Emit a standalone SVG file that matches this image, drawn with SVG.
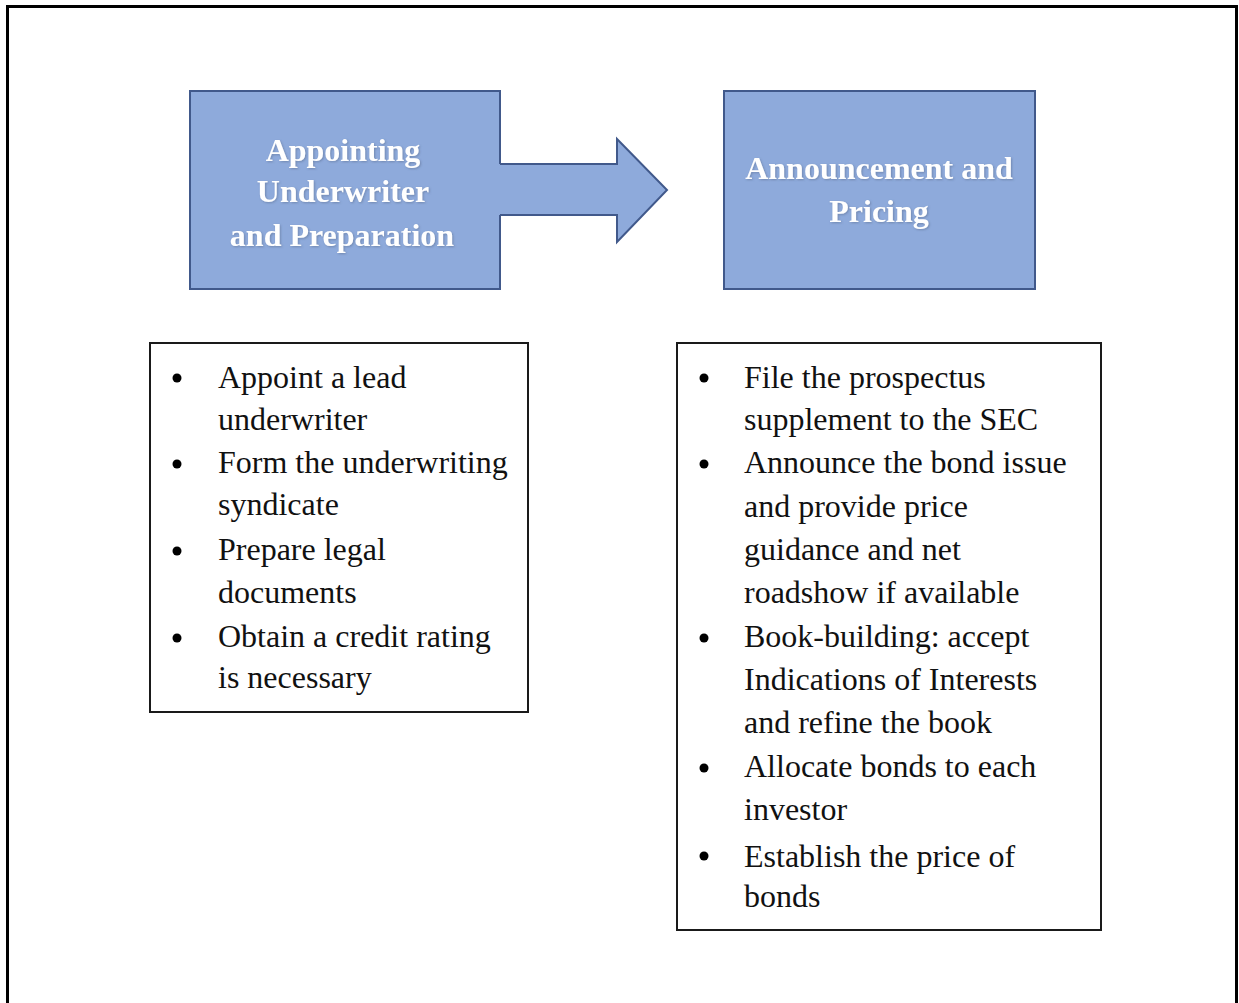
<svg xmlns="http://www.w3.org/2000/svg" width="1239" height="1003" viewBox="0 0 1239 1003">
<defs>
<filter id="shadow" x="-10%" y="-30%" width="120%" height="160%">
<feDropShadow dx="1" dy="1" stdDeviation="0.8" flood-color="#4a5a78" flood-opacity="0.45"/>
</filter>
</defs>
<style>
.shape{fill:#8eaadb;stroke:#41598b;stroke-width:2}
.title{font-family:"Liberation Serif","Times New Roman",serif;font-weight:bold;font-size:32px;fill:#ffffff;text-anchor:middle;filter:url(#shadow)}
.item{font-family:"Liberation Serif","Times New Roman",serif;font-size:32px;fill:#111111}
.box{fill:#ffffff;stroke:#1a1a1a;stroke-width:2}
.dot{fill:#000000}
</style>
<rect x="0" y="0" width="1239" height="1003" fill="#ffffff"/>
<rect x="7.5" y="6.5" width="1229" height="1010" fill="none" stroke="#000000" stroke-width="3"/>
<g id="connectors">
<path id="arrow" class="shape" d="M500,164 L617,164 L617,139 L667,190 L617,242 L617,215 L500,215"/>
</g>
<g id="node-appointing">
<rect x="190" y="91" width="310" height="198" fill="#8eaadb" stroke="none"/>
<path d="M500,164 L500,91 L190,91 L190,289 L500,289 L500,215" fill="none" stroke="#41598b" stroke-width="2"/>
<text class="title" x="343" y="161">Appointing</text>
<text class="title" x="343" y="202">Underwriter</text>
<text class="title" x="342" y="246">and Preparation</text>
</g>
<g id="node-announcement">
<rect class="shape" x="724" y="91" width="311" height="198"/>
<text class="title" x="879" y="179">Announcement and</text>
<text class="title" x="879" y="222">Pricing</text>
</g>
<g id="node-list-left">
<rect class="box" x="150" y="343" width="378" height="369"/>
<circle class="dot" cx="177" cy="378" r="4.5"/>
<circle class="dot" cx="177" cy="464" r="4.5"/>
<circle class="dot" cx="177" cy="551" r="4.5"/>
<circle class="dot" cx="177" cy="638" r="4.5"/>
<text class="item" x="218" y="388">Appoint a lead</text>
<text class="item" x="218" y="430">underwriter</text>
<text class="item" x="218" y="473">Form the underwriting</text>
<text class="item" x="218" y="515">syndicate</text>
<text class="item" x="218" y="560">Prepare legal</text>
<text class="item" x="218" y="603">documents</text>
<text class="item" x="218" y="647">Obtain a credit rating</text>
<text class="item" x="218" y="688">is necessary</text>
</g>
<g id="node-list-right">
<rect class="box" x="677" y="343" width="424" height="587"/>
<circle class="dot" cx="704" cy="378" r="4.5"/>
<circle class="dot" cx="704" cy="464" r="4.5"/>
<circle class="dot" cx="704" cy="638" r="4.5"/>
<circle class="dot" cx="704" cy="768" r="4.5"/>
<circle class="dot" cx="704" cy="856" r="4.5"/>
<text class="item" x="744" y="388">File the prospectus</text>
<text class="item" x="744" y="430">supplement to the SEC</text>
<text class="item" x="744" y="473">Announce the bond issue</text>
<text class="item" x="744" y="517">and provide price</text>
<text class="item" x="744" y="560">guidance and net</text>
<text class="item" x="744" y="603">roadshow if available</text>
<text class="item" x="744" y="647">Book-building: accept</text>
<text class="item" x="744" y="690">Indications of Interests</text>
<text class="item" x="744" y="733">and refine the book</text>
<text class="item" x="744" y="777">Allocate bonds to each</text>
<text class="item" x="744" y="820">investor</text>
<text class="item" x="744" y="867">Establish the price of</text>
<text class="item" x="744" y="907">bonds</text>
</g>
</svg>
